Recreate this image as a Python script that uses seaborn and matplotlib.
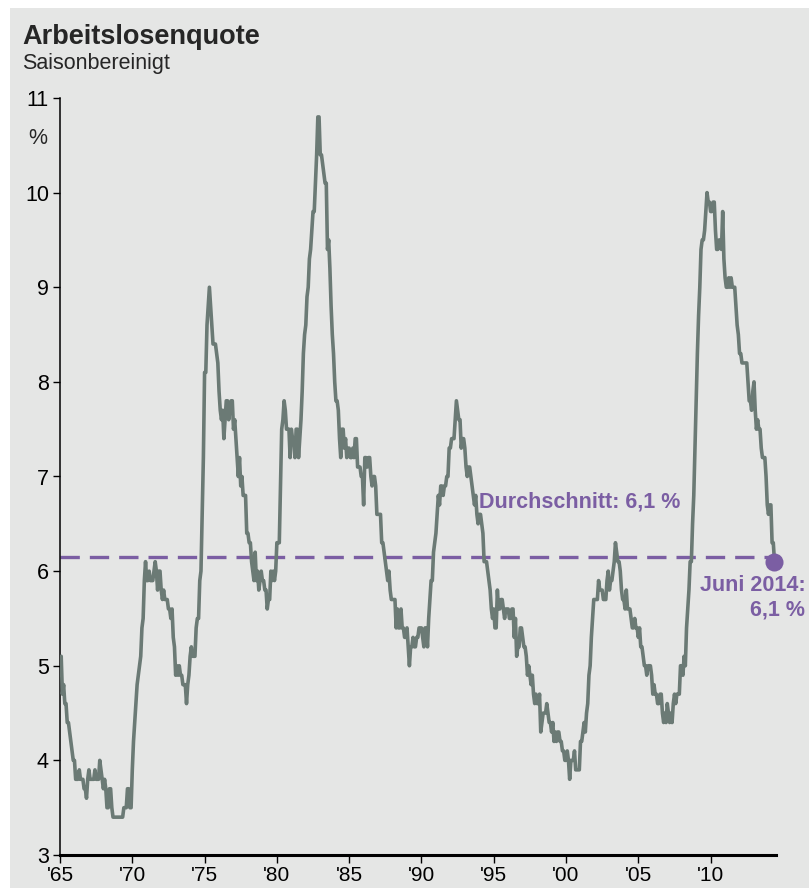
import numpy as np
import pandas as pd
import matplotlib
matplotlib.use("Agg")
import matplotlib.pyplot as plt
from matplotlib.patches import Rectangle
import seaborn as sns

# Monthly seasonally adjusted unemployment rate (%), Jan 1965 - Jun 2014
rate_1965_1974 = [
    4.9, 5.1, 4.7, 4.8, 4.6, 4.6, 4.4, 4.4, 4.3, 4.2, 4.1, 4.0,
    4.0, 3.8, 3.8, 3.8, 3.9, 3.8, 3.8, 3.8, 3.7, 3.7, 3.6, 3.8,
    3.9, 3.8, 3.8, 3.8, 3.8, 3.9, 3.8, 3.8, 3.8, 4.0, 3.9, 3.8,
    3.7, 3.8, 3.7, 3.5, 3.5, 3.7, 3.7, 3.5, 3.4, 3.4, 3.4, 3.4,
    3.4, 3.4, 3.4, 3.4, 3.4, 3.5, 3.5, 3.5, 3.7, 3.7, 3.5, 3.5,
    3.9, 4.2, 4.4, 4.6, 4.8, 4.9, 5.0, 5.1, 5.4, 5.5, 5.9, 6.1,
    5.9, 5.9, 6.0, 5.9, 5.9, 5.9, 6.0, 6.1, 6.0, 5.8, 6.0, 6.0,
    5.8, 5.7, 5.8, 5.7, 5.7, 5.7, 5.6, 5.6, 5.5, 5.6, 5.3, 5.2,
    4.9, 5.0, 4.9, 5.0, 4.9, 4.9, 4.8, 4.8, 4.8, 4.6, 4.8, 4.9,
    5.1, 5.2, 5.1, 5.1, 5.1, 5.4, 5.5, 5.5, 5.9, 6.0, 6.6, 7.2,
]
rate_1975_1984 = [
    8.1, 8.1, 8.6, 8.8, 9.0, 8.8, 8.6, 8.4, 8.4, 8.4, 8.3, 8.2,
    7.9, 7.7, 7.6, 7.7, 7.4, 7.6, 7.8, 7.8, 7.6, 7.7, 7.8, 7.8,
    7.5, 7.6, 7.4, 7.2, 7.0, 7.2, 6.9, 7.0, 6.8, 6.8, 6.8, 6.4,
    6.4, 6.3, 6.3, 6.1, 6.0, 5.9, 6.2, 5.9, 6.0, 5.8, 5.9, 6.0,
    5.9, 5.9, 5.8, 5.8, 5.6, 5.7, 5.7, 6.0, 5.9, 6.0, 5.9, 6.0,
    6.3, 6.3, 6.3, 6.9, 7.5, 7.6, 7.8, 7.7, 7.5, 7.5, 7.5, 7.2,
    7.5, 7.4, 7.4, 7.2, 7.5, 7.5, 7.2, 7.4, 7.6, 7.9, 8.3, 8.5,
    8.6, 8.9, 9.0, 9.3, 9.4, 9.6, 9.8, 9.8, 10.1, 10.4, 10.8, 10.8,
    10.4, 10.4, 10.3, 10.2, 10.1, 10.1, 9.4, 9.5, 9.2, 8.8, 8.5, 8.3,
    8.0, 7.8, 7.8, 7.7, 7.4, 7.2, 7.5, 7.5, 7.3, 7.4, 7.2, 7.3,
]
rate_1985_1994 = [
    7.3, 7.2, 7.2, 7.3, 7.2, 7.4, 7.4, 7.1, 7.1, 7.1, 7.0, 7.0,
    6.7, 7.2, 7.2, 7.1, 7.2, 7.2, 7.0, 6.9, 7.0, 7.0, 6.9, 6.6,
    6.6, 6.6, 6.6, 6.3, 6.3, 6.2, 6.1, 6.0, 5.9, 6.0, 5.8, 5.7,
    5.7, 5.7, 5.7, 5.4, 5.6, 5.4, 5.4, 5.6, 5.4, 5.4, 5.3, 5.3,
    5.4, 5.2, 5.0, 5.2, 5.2, 5.3, 5.2, 5.2, 5.3, 5.3, 5.4, 5.4,
    5.4, 5.3, 5.2, 5.4, 5.4, 5.2, 5.5, 5.7, 5.9, 5.9, 6.2, 6.3,
    6.4, 6.6, 6.8, 6.7, 6.9, 6.9, 6.8, 6.9, 6.9, 7.0, 7.0, 7.3,
    7.3, 7.4, 7.4, 7.4, 7.6, 7.8, 7.7, 7.6, 7.6, 7.3, 7.4, 7.4,
    7.3, 7.1, 7.0, 7.1, 7.1, 7.0, 6.9, 6.8, 6.7, 6.8, 6.6, 6.5,
    6.6, 6.6, 6.5, 6.4, 6.1, 6.1, 6.1, 6.0, 5.9, 5.8, 5.6, 5.5,
]
rate_1995_2004 = [
    5.6, 5.4, 5.4, 5.8, 5.6, 5.6, 5.7, 5.7, 5.6, 5.5, 5.6, 5.6,
    5.6, 5.5, 5.5, 5.6, 5.6, 5.3, 5.5, 5.1, 5.2, 5.2, 5.4, 5.4,
    5.3, 5.2, 5.2, 5.1, 4.9, 5.0, 4.9, 4.8, 4.9, 4.7, 4.6, 4.7,
    4.6, 4.6, 4.7, 4.3, 4.4, 4.5, 4.5, 4.5, 4.6, 4.5, 4.4, 4.4,
    4.3, 4.4, 4.2, 4.3, 4.2, 4.3, 4.3, 4.2, 4.2, 4.1, 4.1, 4.0,
    4.0, 4.1, 4.0, 3.8, 4.0, 4.0, 4.0, 4.1, 3.9, 3.9, 3.9, 3.9,
    4.2, 4.2, 4.3, 4.4, 4.3, 4.5, 4.6, 4.9, 5.0, 5.3, 5.5, 5.7,
    5.7, 5.7, 5.7, 5.9, 5.8, 5.8, 5.8, 5.7, 5.7, 5.7, 5.9, 6.0,
    5.8, 5.9, 5.9, 6.0, 6.1, 6.3, 6.2, 6.1, 6.1, 6.0, 5.8, 5.7,
    5.7, 5.6, 5.8, 5.6, 5.6, 5.6, 5.5, 5.4, 5.4, 5.5, 5.4, 5.4,
]
rate_2005_2014 = [
    5.3, 5.4, 5.2, 5.2, 5.1, 5.0, 5.0, 4.9, 5.0, 5.0, 5.0, 4.9,
    4.7, 4.8, 4.7, 4.7, 4.6, 4.6, 4.7, 4.7, 4.5, 4.4, 4.5, 4.4,
    4.6, 4.5, 4.4, 4.5, 4.4, 4.6, 4.7, 4.6, 4.7, 4.7, 4.7, 5.0,
    5.0, 4.9, 5.1, 5.0, 5.4, 5.6, 5.8, 6.1, 6.1, 6.5, 6.8, 7.3,
    7.8, 8.3, 8.7, 9.0, 9.4, 9.5, 9.5, 9.6, 9.8, 10.0, 9.9, 9.9,
    9.8, 9.8, 9.9, 9.9, 9.6, 9.4, 9.4, 9.5, 9.5, 9.4, 9.8, 9.3,
    9.1, 9.0, 9.0, 9.1, 9.0, 9.1, 9.0, 9.0, 9.0, 8.8, 8.6, 8.5,
    8.3, 8.3, 8.2, 8.2, 8.2, 8.2, 8.2, 8.0, 7.8, 7.8, 7.7, 7.9,
    8.0, 7.7, 7.5, 7.6, 7.5, 7.5, 7.3, 7.2, 7.2, 7.2, 7.0, 6.7,
    6.6, 6.7, 6.7, 6.3, 6.3, 6.1,
]

year_ticks = [1965, 1970, 1975, 1980, 1985, 1990, 1995, 2000, 2005, 2010]
year_labels = ["'65", "'70", "'75", "'80", "'85", "'90", "'95", "'00", "'05", "'10"]
y_ticks = [3, 4, 5, 6, 7, 8, 9, 10, 11]

rate = rate_1965_1974 + rate_1975_1984 + rate_1985_1994 + rate_1995_2004 + rate_2005_2014
dates = pd.date_range("1965-01-01", periods=len(rate), freq="MS")
df = pd.DataFrame({
    "jahr": dates.year + (dates.month - 1) / 12.0,
    "quote": rate,
})
average = float(np.mean(rate))

LINE = "#6b7a75"
PURPLE = "#7b5ea3"
BG = "#e5e6e5"

sns.set_style("ticks")
plt.rcParams["font.family"] = ["Liberation Sans", "DejaVu Sans"]

W, H = 809, 888
fig = plt.figure(figsize=(W / 100, H / 100), dpi=100, facecolor="white")
fig.patches.append(Rectangle((10 / W, 0), 1 - 10 / W, 1 - 8 / H,
                             transform=fig.transFigure, facecolor=BG,
                             edgecolor="none", zorder=-10))

ax = fig.add_axes([60 / W, (H - 855) / H, (775.7 - 60) / W, (855 - 98) / H])
ax.set_facecolor("none")

sns.lineplot(data=df, x="jahr", y="quote", ax=ax, color=LINE, linewidth=2.6,
             solid_joinstyle="round", solid_capstyle="round", zorder=3)

last_x = df["jahr"].iloc[-1]
last_y = df["quote"].iloc[-1]

# Long-run average as a dashed reference line ending at the latest value
avg_line, = ax.plot([1965, last_x - 0.35], [average, average], color=PURPLE,
                    linewidth=2.4, zorder=2)
avg_line.set_dashes([5.8, 3.0])
ax.plot([last_x], [last_y], marker="o", markersize=13, color=PURPLE,
        markeredgewidth=0, linestyle="none", zorder=4, clip_on=False)

fmt = lambda v: f"{v:.1f}".replace(".", ",")
ax.text(1994.0, 6.73, f"Durchschnitt: {fmt(average)} %", color=PURPLE,
        fontsize=15.5, fontweight="bold", va="center", ha="left")
ax.text(2016.55, 5.72, f"Juni 2014:\n{fmt(last_y)} %", color=PURPLE,
        fontsize=15.5, fontweight="bold", va="center", ha="right",
        multialignment="right", linespacing=1.25, clip_on=False)

ax.set_xlim(1965, 2014.5)
ax.set_ylim(3, 11)
ax.set_xticks(year_ticks)
ax.set_xticklabels(year_labels)
ax.set_yticks(y_ticks)
ax.set_xlabel("")
ax.set_ylabel("")

for side in ("top", "right"):
    ax.spines[side].set_visible(False)
ax.spines["left"].set_linewidth(1.1)
ax.spines["bottom"].set_linewidth(2.2)
ax.spines["left"].set_color("black")
ax.spines["bottom"].set_color("black")
ax.tick_params(axis="y", length=5, width=1.0, pad=3, labelsize=15.5, colors="black")
ax.tick_params(axis="x", length=6, width=1.0, pad=2, labelsize=15, colors="black")

fig.text(22 / W, 1 - 44 / H, "Arbeitslosenquote", fontsize=19.5,
         fontweight="bold", va="baseline", ha="left")
fig.text(22 / W, 1 - 69 / H, "Saisonbereinigt", fontsize=15.5,
         va="baseline", ha="left")
fig.text(38 / W, 1 - 138 / H, "%", fontsize=15.5, va="center", ha="center")

fig.savefig("out.png", dpi=100, facecolor=fig.get_facecolor())
